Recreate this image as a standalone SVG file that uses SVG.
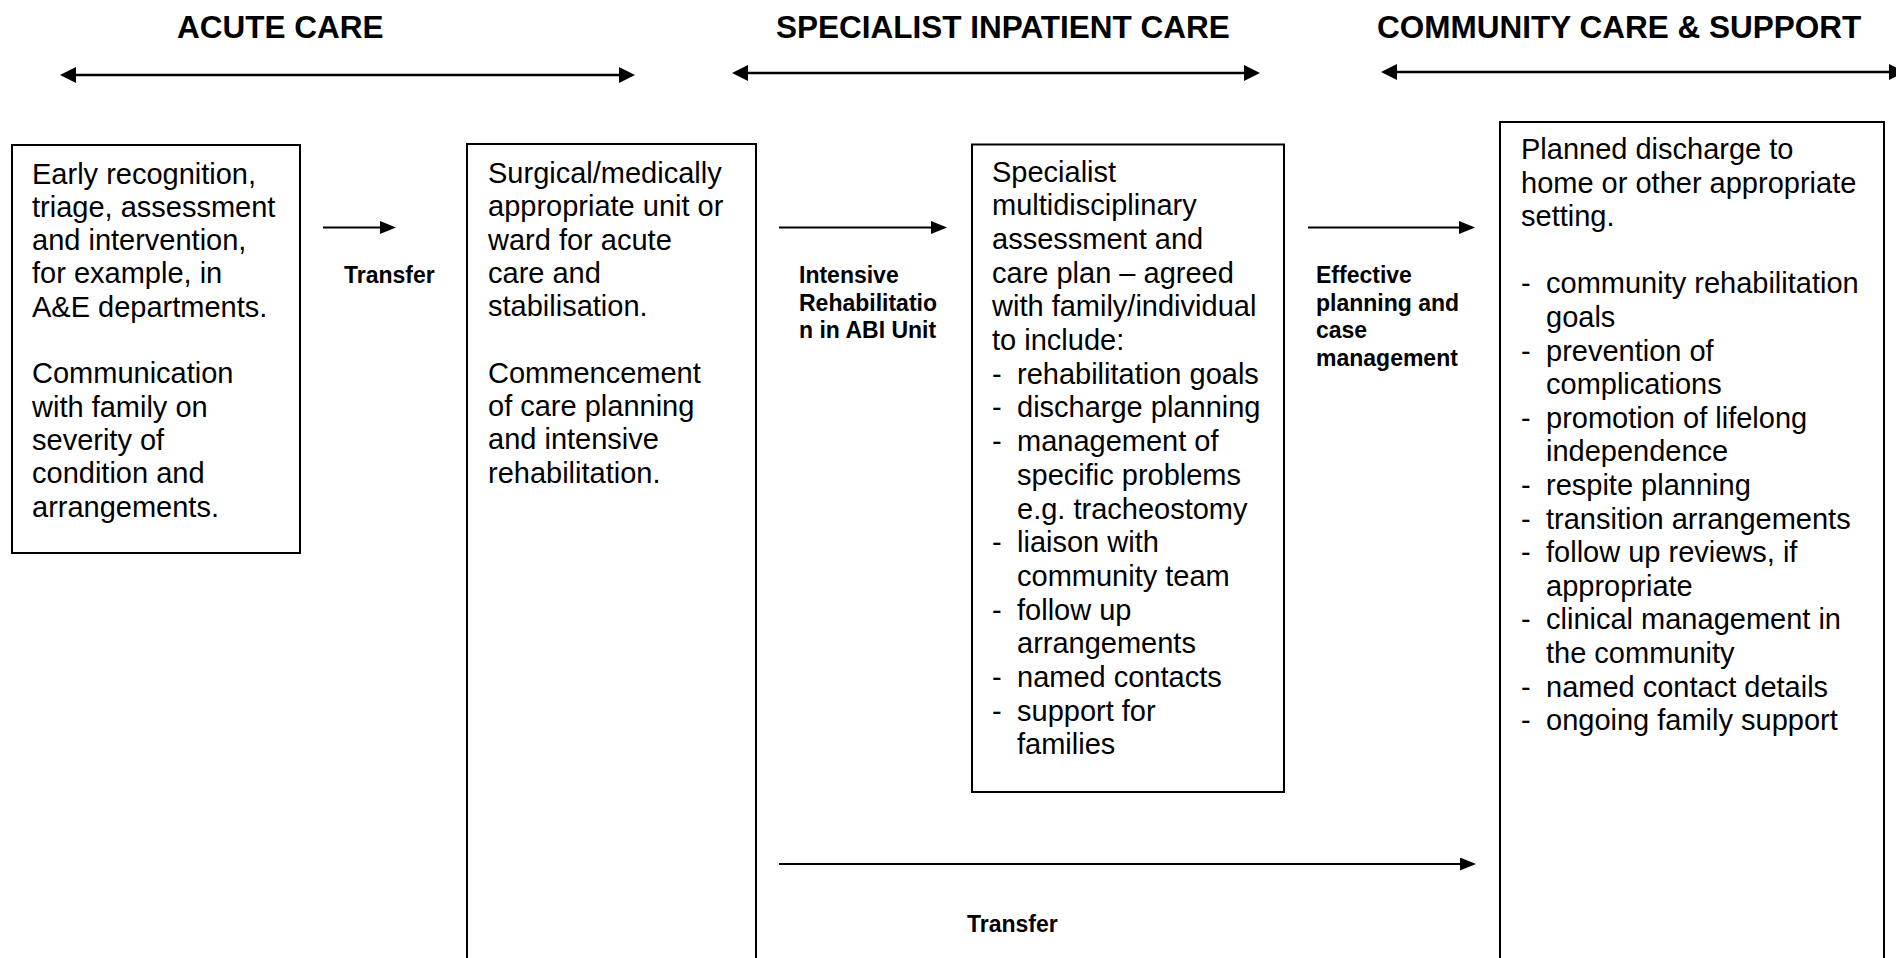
<svg xmlns="http://www.w3.org/2000/svg" width="1896" height="958" viewBox="0 0 1896 958">
  <style>
    .box { fill: #ffffff; stroke: #000000; stroke-width: 2; }
    .body { font-family: "Liberation Sans", Arial, sans-serif; font-size: 29px; fill: #000000; }
    .label { font-family: "Liberation Sans", Arial, sans-serif; font-size: 23px; font-weight: bold; fill: #000000; }
    .title { font-family: "Liberation Sans", Arial, sans-serif; font-size: 31.5px; font-weight: bold; fill: #000000; }
    .span-line { stroke: #000000; stroke-width: 2.5; fill: none; }
    .flow { stroke: #000000; stroke-width: 2; fill: none; }
  </style>
  <defs>
    <marker id="spanHead" markerUnits="userSpaceOnUse" markerWidth="17" markerHeight="16" refX="1" refY="8" orient="auto-start-reverse">
      <path d="M0,0 L16,8 L0,16 z" fill="#000000"/>
    </marker>
    <marker id="flowHead" markerUnits="userSpaceOnUse" markerWidth="17" markerHeight="14" refX="1" refY="6.5" orient="auto">
      <path d="M0,0 L16,6.5 L0,13 z" fill="#000000"/>
    </marker>
  </defs>

  <rect width="1896" height="958" fill="#ffffff"/>

  <!-- phase headings with their span arrows -->
  <g id="phase-acute">
    <text class="title" x="177" y="38">ACUTE CARE</text>
    <line class="span-line" x1="75" y1="75" x2="620" y2="75" marker-start="url(#spanHead)" marker-end="url(#spanHead)"/>
  </g>
  <g id="phase-specialist">
    <text class="title" x="776" y="38">SPECIALIST INPATIENT CARE</text>
    <line class="span-line" x1="747" y1="73" x2="1245" y2="73" marker-start="url(#spanHead)" marker-end="url(#spanHead)"/>
  </g>
  <g id="phase-community">
    <text class="title" x="1377" y="38">COMMUNITY CARE &amp; SUPPORT</text>
    <line class="span-line" x1="1396" y1="72" x2="1890" y2="72" marker-start="url(#spanHead)" marker-end="url(#spanHead)"/>
  </g>

  <!-- stage 1: emergency -->
  <g id="stage-emergency">
    <rect class="box" x="12" y="145" width="288" height="408"/>
    <text class="body">
      <tspan x="32" y="183.5">Early recognition,</tspan>
      <tspan x="32" y="216.8">triage, assessment</tspan>
      <tspan x="32" y="250.1">and intervention,</tspan>
      <tspan x="32" y="283.4">for example, in</tspan>
      <tspan x="32" y="316.7">A&amp;E departments.</tspan>
      <tspan x="32" y="383.3">Communication</tspan>
      <tspan x="32" y="416.6">with family on</tspan>
      <tspan x="32" y="449.9">severity of</tspan>
      <tspan x="32" y="483.2">condition and</tspan>
      <tspan x="32" y="516.5">arrangements.</tspan>
    </text>
  </g>

  <!-- stage 2: acute ward -->
  <g id="stage-acute-ward">
    <rect class="box" x="467" y="144" width="289" height="840"/>
    <text class="body">
      <tspan x="488" y="183">Surgical/medically</tspan>
      <tspan x="488" y="216.3">appropriate unit or</tspan>
      <tspan x="488" y="249.6">ward for acute</tspan>
      <tspan x="488" y="282.9">care and</tspan>
      <tspan x="488" y="316.2">stabilisation.</tspan>
      <tspan x="488" y="382.8">Commencement</tspan>
      <tspan x="488" y="416.1">of care planning</tspan>
      <tspan x="488" y="449.4">and intensive</tspan>
      <tspan x="488" y="482.7">rehabilitation.</tspan>
    </text>
  </g>

  <!-- stage 3: specialist unit -->
  <g id="stage-specialist-unit">
    <rect class="box" x="972" y="144.5" width="312" height="647.5"/>
    <text class="body">
      <tspan x="992" y="181.5">Specialist</tspan>
      <tspan x="992" y="215.2">multidisciplinary</tspan>
      <tspan x="992" y="248.9">assessment and</tspan>
      <tspan x="992" y="282.6">care plan – agreed</tspan>
      <tspan x="992" y="316.3">with family/individual</tspan>
      <tspan x="992" y="350">to include:</tspan>
      <tspan x="992" y="383.7">-</tspan><tspan x="1017" y="383.7">rehabilitation goals</tspan>
      <tspan x="992" y="417.4">-</tspan><tspan x="1017" y="417.4">discharge planning</tspan>
      <tspan x="992" y="451.1">-</tspan><tspan x="1017" y="451.1">management of</tspan>
      <tspan x="1017" y="484.8">specific problems</tspan>
      <tspan x="1017" y="518.5">e.g. tracheostomy</tspan>
      <tspan x="992" y="552.2">-</tspan><tspan x="1017" y="552.2">liaison with</tspan>
      <tspan x="1017" y="585.9">community team</tspan>
      <tspan x="992" y="619.6">-</tspan><tspan x="1017" y="619.6">follow up</tspan>
      <tspan x="1017" y="653.3">arrangements</tspan>
      <tspan x="992" y="687">-</tspan><tspan x="1017" y="687">named contacts</tspan>
      <tspan x="992" y="720.7">-</tspan><tspan x="1017" y="720.7">support for</tspan>
      <tspan x="1017" y="754.4">families</tspan>
    </text>
  </g>

  <!-- stage 4: discharge and community -->
  <g id="stage-community">
    <rect class="box" x="1500" y="122" width="384" height="860"/>
    <text class="body">
      <tspan x="1521" y="159">Planned discharge to</tspan>
      <tspan x="1521" y="192.6">home or other appropriate</tspan>
      <tspan x="1521" y="226.2">setting.</tspan>
      <tspan x="1521" y="293.4">-</tspan><tspan x="1546" y="293.4">community rehabilitation</tspan>
      <tspan x="1546" y="327">goals</tspan>
      <tspan x="1521" y="360.6">-</tspan><tspan x="1546" y="360.6">prevention of</tspan>
      <tspan x="1546" y="394.2">complications</tspan>
      <tspan x="1521" y="427.8">-</tspan><tspan x="1546" y="427.8">promotion of lifelong</tspan>
      <tspan x="1546" y="461.4">independence</tspan>
      <tspan x="1521" y="495">-</tspan><tspan x="1546" y="495">respite planning</tspan>
      <tspan x="1521" y="528.6">-</tspan><tspan x="1546" y="528.6">transition arrangements</tspan>
      <tspan x="1521" y="562.2">-</tspan><tspan x="1546" y="562.2">follow up reviews, if</tspan>
      <tspan x="1546" y="595.8">appropriate</tspan>
      <tspan x="1521" y="629.4">-</tspan><tspan x="1546" y="629.4">clinical management in</tspan>
      <tspan x="1546" y="663">the community</tspan>
      <tspan x="1521" y="696.6">-</tspan><tspan x="1546" y="696.6">named contact details</tspan>
      <tspan x="1521" y="730.2">-</tspan><tspan x="1546" y="730.2">ongoing family support</tspan>
    </text>
  </g>

  <!-- connectors between stages -->
  <g id="connectors">
    <line class="flow" x1="323" y1="227.5" x2="381" y2="227.5" marker-end="url(#flowHead)"/>
    <text class="label" x="344" y="283">Transfer</text>

    <line class="flow" x1="779" y1="227.5" x2="932" y2="227.5" marker-end="url(#flowHead)"/>
    <text class="label">
      <tspan x="799" y="283">Intensive</tspan>
      <tspan x="799" y="310.5">Rehabilitatio</tspan>
      <tspan x="799" y="338">n in ABI Unit</tspan>
    </text>

    <line class="flow" x1="1308" y1="227.5" x2="1460" y2="227.5" marker-end="url(#flowHead)"/>
    <text class="label">
      <tspan x="1316" y="283">Effective</tspan>
      <tspan x="1316" y="310.5">planning and</tspan>
      <tspan x="1316" y="338">case</tspan>
      <tspan x="1316" y="365.5">management</tspan>
    </text>

    <line class="flow" x1="779" y1="864" x2="1461" y2="864" marker-end="url(#flowHead)"/>
    <text class="label" x="967" y="932">Transfer</text>
  </g>
</svg>
